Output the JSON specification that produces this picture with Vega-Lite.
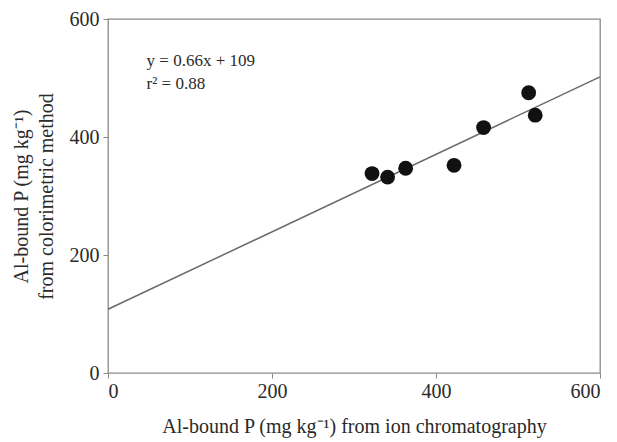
{
  "$schema": "https://vega.github.io/schema/vega-lite/v6.json",
  "width": 492,
  "height": 354,
  "autosize": "none",
  "padding": {"left": 108, "top": 19, "right": 17, "bottom": 69},
  "background": "white",
  "config": {
    "view": {"stroke": "#8a8a8a", "strokeWidth": 1.3},
    "font": "Liberation Serif",
    "axis": {
      "grid": false,
      "domain": false,
      "tickColor": "#8a8a8a",
      "tickSize": 5,
      "labelFont": "Liberation Serif",
      "labelFontSize": 20,
      "labelColor": "#2a2a2a",
      "titleFont": "Liberation Serif",
      "titleFontSize": 20,
      "titleFontWeight": "normal",
      "titleColor": "#2a2a2a"
    }
  },
  "datasets": {
    "pts": [
      {"ic": 322, "col": 338},
      {"ic": 341, "col": 332},
      {"ic": 363, "col": 347},
      {"ic": 422, "col": 352},
      {"ic": 458, "col": 416},
      {"ic": 513, "col": 475},
      {"ic": 521, "col": 437}
    ],
    "fit": [
      {"ic": 0, "col": 108},
      {"ic": 600, "col": 502}
    ],
    "notes": [
      {"ic": 47, "col": 528, "txt": "y = 0.66x + 109"},
      {"ic": 47, "col": 489, "txt": "r² = 0.88"}
    ]
  },
  "layer": [
    {
      "data": {"name": "fit"},
      "mark": {"type": "line", "color": "#6a6a6a", "strokeWidth": 1.5},
      "encoding": {
        "x": {
          "field": "ic", "type": "quantitative",
          "scale": {"domain": [0, 600], "nice": false},
          "axis": {"values": [0, 200, 400, 600], "title": "Al-bound P (mg kg⁻¹) from ion chromatography", "titlePadding": 15, "labelPadding": 3}
        },
        "y": {
          "field": "col", "type": "quantitative",
          "scale": {"domain": [0, 600], "nice": false},
          "axis": {"values": [0, 200, 400, 600], "title": ["Al-bound P (mg kg⁻¹)", "from colorimetric method"], "titlePadding": 13, "labelPadding": 4, "titleLineHeight": 25}
        }
      }
    },
    {
      "data": {"name": "pts"},
      "mark": {"type": "circle", "color": "#111", "opacity": 1, "size": 220},
      "encoding": {
        "x": {"field": "ic", "type": "quantitative"},
        "y": {"field": "col", "type": "quantitative"}
      }
    },
    {
      "data": {"name": "notes"},
      "mark": {"type": "text", "align": "left", "baseline": "middle", "font": "Liberation Serif", "fontSize": 17, "color": "#2a2a2a"},
      "encoding": {
        "x": {"field": "ic", "type": "quantitative"},
        "y": {"field": "col", "type": "quantitative"},
        "text": {"field": "txt"}
      }
    }
  ]
}
